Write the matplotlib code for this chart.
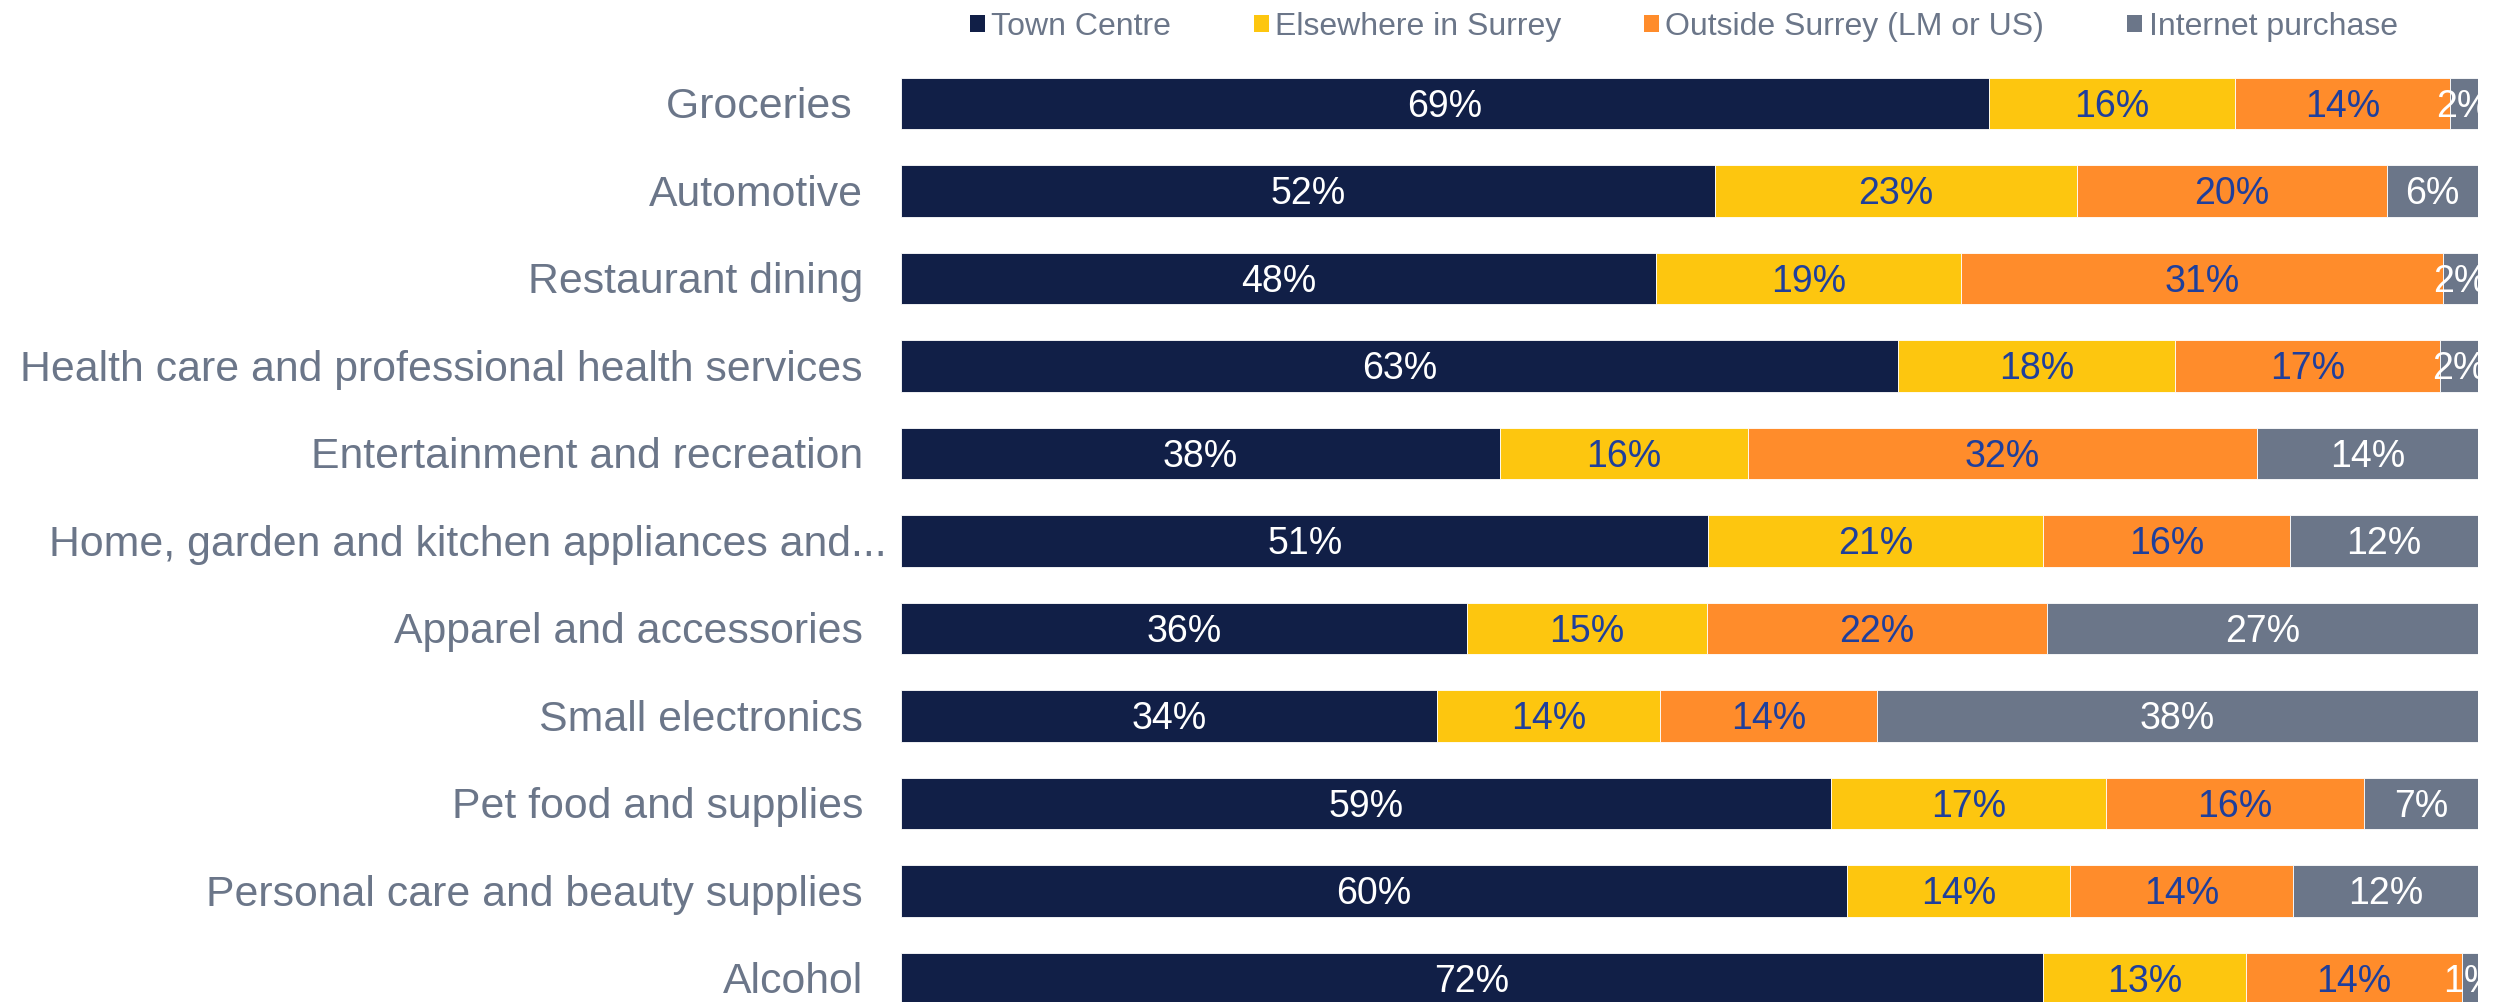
import matplotlib
matplotlib.use("Agg")
import matplotlib.pyplot as plt
from matplotlib.patches import Patch
from matplotlib.transforms import offset_copy

plt.rcParams['font.family'] = ['Liberation Sans', 'DejaVu Sans']

categories = [
    "Groceries ",
    "Automotive",
    "Restaurant dining",
    "Health care and professional health services",
    "Entertainment and recreation",
    "Home, garden and kitchen appliances and...",
    "Apparel and accessories",
    "Small electronics",
    "Pet food and supplies",
    "Personal care and beauty supplies",
    "Alcohol",
]
series_names = ["Town Centre", "Elsewhere in Surrey", "Outside Surrey (LM or US)", "Internet purchase"]

town_centre = [69.0, 51.6, 47.9, 63.2, 38.0, 51.2, 35.9, 34.0, 59.0, 60.0, 72.4]
elsewhere   = [15.6, 23.0, 19.3, 17.6, 15.7, 21.2, 15.2, 14.1, 17.4, 14.1, 12.9]
outside     = [13.6, 19.6, 30.6, 16.8, 32.3, 15.7, 21.6, 13.8, 16.4, 14.2, 13.7]
internet    = [1.8, 5.8, 2.2, 2.4, 14.0, 11.9, 27.3, 38.1, 7.2, 11.7, 1.0]

colors = ["#111F47", "#FDC60F", "#FF8C2B", "#6B7689"]
label_colors = ["white", "#1F3F9C", "#1F3F9C", "white"]
text_gray = "#6B7689"

W, H = 2496, 1002
PT = 0.72  # points per pixel at dpi 100
fig = plt.figure(figsize=(W / 100, H / 100), dpi=100)
ax_left, ax_right = 901 / W, 2478 / W
ax_top_px = 60
ax = fig.add_axes([ax_left, 0, ax_right - ax_left, 1 - ax_top_px / H])

row_px0, row_step = 103.5, 87.5
y_top = (ax_top_px - row_px0) / row_step
y_bot = (H - row_px0) / row_step
ax.set_ylim(y_bot, y_top)
ax.set_xlim(0, 100)

val_fs = 27
val_tr = offset_copy(ax.transData, fig=fig, x=0, y=-13.2 * PT, units="points")

series = [town_centre, elsewhere, outside, internet]
ypos = list(range(len(categories)))
left = [0.0] * len(categories)
for s, vals in enumerate(series):
    ax.barh(ypos, vals, left=left, height=0.59, color=colors[s],
            edgecolor="white", linewidth=0.6, label=series_names[s])
    for i, v in enumerate(vals):
        ax.text(left[i] + v / 2, i, f"{v:.0f}%", ha="center", va="baseline",
                color=label_colors[s], fontsize=val_fs, clip_on=True,
                transform=val_tr)
    left = [l + v for l, v in zip(left, vals)]

for sp in ax.spines.values():
    sp.set_visible(False)
ax.set_xticks([])
ax.set_yticks([])

# category labels
for i, cat in enumerate(categories):
    dx = -14 if cat.endswith("...") else -38
    tr = offset_copy(ax.get_yaxis_transform(), fig=fig, x=dx * PT, y=-15.0 * PT, units="points")
    ax.text(0, i, cat, transform=tr, ha="right", va="baseline",
            fontsize=30.8, color=text_gray, clip_on=False)

handles = [Patch(facecolor=c, edgecolor="none") for c in colors]
fig.legend(handles, series_names, loc="center left",
           bbox_to_anchor=(970 / W, 1 - 27 / H), ncol=4, frameon=False,
           fontsize=23.0, labelcolor=text_gray, handlelength=0.46, handleheight=0.46,
           handletextpad=0.2, columnspacing=2.6, borderpad=0, borderaxespad=0)

fig.savefig("out.png", dpi=100, facecolor="white")
